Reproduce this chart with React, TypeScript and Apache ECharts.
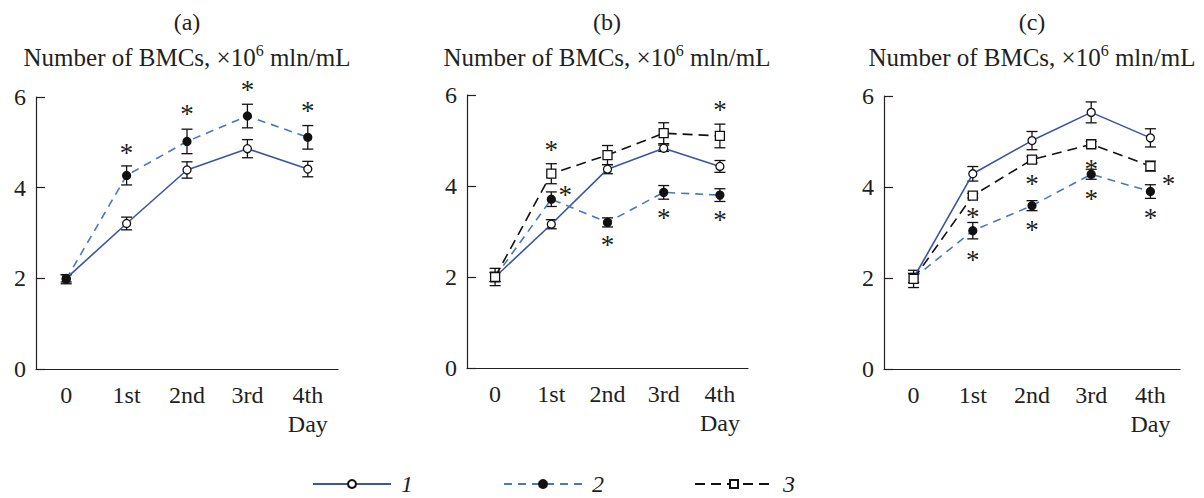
import React, { useEffect, useRef } from "react";
import * as echarts from "echarts";

const days = ["0", "1st", "2nd", "3rd", "4th"];
const yTicks = [0, 2, 4, 6];
const panelLabels = ["(a)", "(b)", "(c)"];
const seriesNames = ["1", "2", "3"];

// Panel (a)
const aMean1 = [2.0, 3.21, 4.39, 4.86, 4.41];
const aErr1 = [0.08, 0.14, 0.18, 0.2, 0.17];
const aMean2 = [1.98, 4.27, 5.02, 5.58, 5.11];
const aErr2 = [0.1, 0.21, 0.27, 0.26, 0.26];
// asterisks: [dayIndex, yValue, dxPixels]
const aStars = [[1, 4.92, 0], [2, 5.78, 0], [3, 6.31, 0], [4, 5.85, 0]];

// Panel (b)
const bMean1 = [2.0, 3.16, 4.37, 4.83, 4.43];
const bErr1 = [0.1, 0.1, 0.1, 0.07, 0.13];
const bMean2 = [2.0, 3.71, 3.2, 3.86, 3.8];
const bErr2 = [0.1, 0.16, 0.1, 0.15, 0.14];
const bMean3 = [2.0, 4.27, 4.68, 5.16, 5.1];
const bErr3 = [0.19, 0.22, 0.21, 0.23, 0.26];
const bStars = [[1, 4.95, 0], [1, 3.96, 14], [2, 2.85, 0], [3, 3.44, 0], [4, 5.82, 0], [4, 3.41, 0]];

// Panel (c)
const cMean1 = [2.0, 4.29, 5.02, 5.64, 5.08];
const cErr1 = [0.1, 0.16, 0.2, 0.23, 0.2];
const cMean2 = [2.0, 3.04, 3.59, 4.28, 3.9];
const cErr2 = [0.1, 0.18, 0.11, 0.11, 0.15];
const cMean3 = [1.98, 3.81, 4.6, 4.94, 4.46];
const cErr3 = [0.19, 0.05, 0.07, 0.06, 0.11];
const cStars = [[1, 3.49, 0], [1, 2.56, 0], [2, 4.21, 0], [2, 3.2, 0], [3, 4.54, 0], [3, 3.88, 0], [4, 4.23, 18], [4, 3.47, 0]];

const FONT = '"Liberation Serif", "Times New Roman", serif';
const TXT = "#231f20";
const BLUE1 = "#3a55a8";
const BLUE2 = "#4a77c4";

const panels = [
  { series: [[aMean1, aErr1], [aMean2, aErr2]], stars: aStars },
  { series: [[bMean1, bErr1], [bMean2, bErr2], [bMean3, bErr3]], stars: bStars },
  { series: [[cMean1, cErr1], [cMean2, cErr2], [cMean3, cErr3]], stars: cStars },
];

const grids = [
  { left: 36, top: 97, width: 302, height: 272 },
  { left: 467, top: 95, width: 281, height: 273 },
  { left: 884, top: 96, width: 296, height: 273 },
];
const titleCenters = [187, 607, 1032];

const styles = [
  { line: { color: BLUE1, width: 1.6, type: "solid" as any }, symbol: "circle", size: 8, fill: "#fff" },
  { line: { color: BLUE2, width: 1.6, type: [8, 6] as any }, symbol: "circle", size: 8, fill: "#111" },
  { line: { color: "#111", width: 1.6, type: [10, 6] as any }, symbol: "rect", size: 9, fill: "#fff" },
];

function buildOption() {
  const series: any[] = [];
  const xAxis: any[] = [];
  const yAxis: any[] = [];
  panels.forEach((p, gi) => {
    xAxis.push({
      type: "category",
      gridIndex: gi,
      data: days,
      boundaryGap: true,
      axisLine: { lineStyle: { color: TXT, width: 1.2 } },
      axisTick: { inside: true, length: 9, lineStyle: { color: TXT, width: 1.2 } },
      axisLabel: {
        color: TXT,
        fontFamily: FONT,
        fontSize: 24,
        margin: 11,
        lineHeight: 29,
        formatter: (v: string) => (v === days[days.length - 1] ? v + "\nDay" : v),
      },
      splitLine: { show: false },
    });
    yAxis.push({
      type: "value",
      gridIndex: gi,
      min: yTicks[0],
      max: yTicks[yTicks.length - 1],
      interval: 2,
      axisLine: { show: true, lineStyle: { color: TXT, width: 1.2 } },
      axisTick: { show: true, inside: true, length: 9, lineStyle: { color: TXT, width: 1.2 } },
      axisLabel: { color: TXT, fontFamily: FONT, fontSize: 24, margin: 10 },
      splitLine: { show: false },
    });
    p.series.forEach(([mean, err], si) => {
      const st = styles[si];
      series.push({
        type: "custom",
        xAxisIndex: gi,
        yAxisIndex: gi,
        z: 1,
        silent: true,
        data: mean.map((m, i) => [i, m - err[i], m + err[i]]),
        renderItem: (params: any, api: any) => {
          const lo = api.coord([api.value(0), api.value(1)]);
          const hi = api.coord([api.value(0), api.value(2)]);
          const hw = 5.5;
          const s = { stroke: "#111", lineWidth: 1.3 };
          return {
            type: "group",
            children: [
              { type: "line", shape: { x1: lo[0], y1: lo[1], x2: hi[0], y2: hi[1] }, style: s },
              { type: "line", shape: { x1: lo[0] - hw, y1: lo[1], x2: lo[0] + hw, y2: lo[1] }, style: s },
              { type: "line", shape: { x1: hi[0] - hw, y1: hi[1], x2: hi[0] + hw, y2: hi[1] }, style: s },
            ],
          };
        },
      });
      series.push({
        type: "line",
        name: seriesNames[si],
        xAxisIndex: gi,
        yAxisIndex: gi,
        z: 3,
        data: mean,
        symbol: st.symbol,
        symbolSize: st.size,
        showAllSymbol: true,
        lineStyle: st.line,
        itemStyle: { color: st.fill, borderColor: "#111", borderWidth: 1.3 },
        emphasis: { disabled: true },
      });
    });
    series.push({
      type: "custom",
      xAxisIndex: gi,
      yAxisIndex: gi,
      clip: false,
      z: 4,
      silent: true,
      data: p.stars.map((s) => [s[0], s[1], s[2]]),
      renderItem: (params: any, api: any) => {
        const c = api.coord([api.value(0), api.value(1)]);
        return {
          type: "text",
          x: c[0] + api.value(2),
          y: c[1] + 7,
          style: {
            text: "*",
            fontFamily: FONT,
            fontSize: 27,
            fill: TXT,
            align: "center",
            verticalAlign: "middle",
          },
        };
      },
    });
  });

  const graphic: any[] = [];
  titleCenters.forEach((cx, i) => {
    graphic.push({
      type: "text",
      x: cx,
      y: 22,
      style: {
        text: panelLabels[i],
        fontFamily: FONT,
        fontSize: 24,
        fill: TXT,
        align: "center",
        verticalAlign: "middle",
      },
    });
    graphic.push({
      type: "text",
      x: cx,
      y: 56,
      style: {
        text: "{m|Number of BMCs, ×10}{s|6}{m| mln/mL}",
        fontFamily: FONT,
        fontSize: 25,
        fill: TXT,
        align: "center",
        verticalAlign: "middle",
        rich: {
          m: { fontFamily: FONT, fontSize: 25, fill: TXT, lineHeight: 28, verticalAlign: "bottom" },
          s: { fontFamily: FONT, fontSize: 16, fill: TXT, lineHeight: 16, verticalAlign: "top" },
        },
      },
    });
  });

  return {
    animation: false,
    backgroundColor: "#fff",
    grid: grids,
    xAxis,
    yAxis,
    series,
    graphic,
    legend: {
      data: seriesNames,
      left: 307,
      top: 467,
      itemWidth: 78,
      itemHeight: 10,
      itemGap: 90,
      selectedMode: false,
      textStyle: { fontFamily: FONT, fontSize: 24, fontStyle: "italic", color: TXT, padding: [0, 0, 0, 5] },
    },
  };
}

export default function App() {
  const ref = useRef<HTMLDivElement>(null);
  useEffect(() => {
    if (!ref.current) return;
    const chart = echarts.init(ref.current, undefined, { renderer: "svg" });
    chart.setOption(buildOption() as any);
    return () => chart.dispose();
  }, []);
  return (
    <div
      ref={ref}
      style={{ position: "fixed", left: 0, top: 0, width: 1204, height: 498, background: "#fff" }}
    />
  );
}
